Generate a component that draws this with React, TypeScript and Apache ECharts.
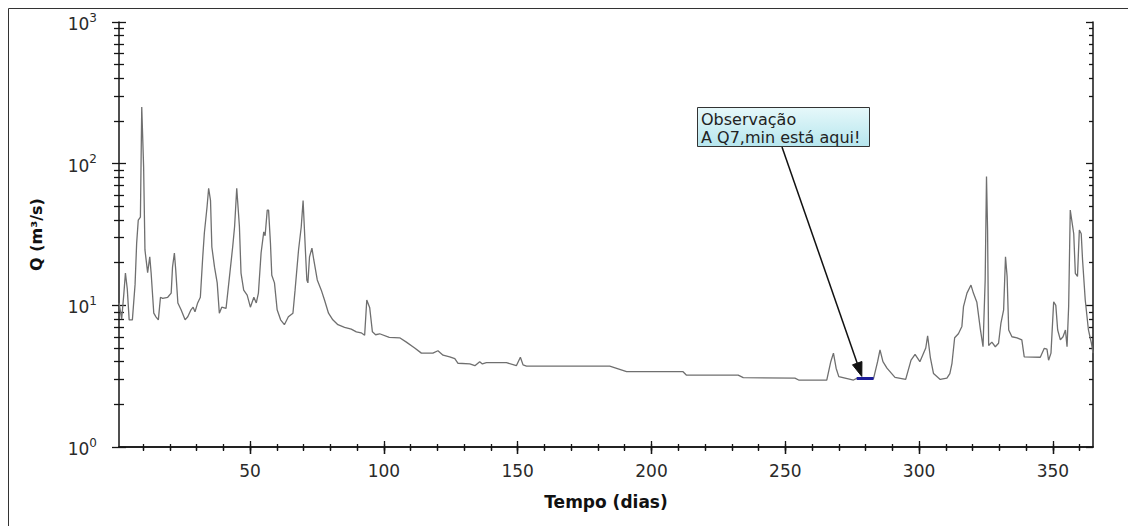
import React, { useEffect, useRef } from "react";
import * as echarts from "echarts";

// ---- data ----
const days = [
  1, 2, 2.8, 3.4, 4.1, 4.8, 6, 7, 7.6, 8.2, 9, 9.5, 10.2, 10.7, 11.7, 12.5, 13, 14, 14.8, 15.7,
  16.5, 17.3, 19.2, 20.5, 21, 21.7, 22.2, 23, 24.2, 25.7, 26.7, 27.9, 28.7, 29.4, 30.4, 31.4,
  32.3, 32.9, 33.9, 34.5, 35.2, 35.7, 36.7, 37.7, 38.5, 39.4, 41, 42.3, 43.5, 44.2, 45, 46,
  46.6, 47.6, 48.9, 50.1, 51.4, 52.3, 53.1, 54.1, 55.1, 55.6, 56.4, 56.9, 57.6, 58.1, 59.1,
  60.1, 61.4, 62.8, 64.3, 66, 66.8, 68.1, 69.1, 69.8, 70.6, 71.2, 71.6, 72.2, 73.1, 73.8,
  75.1, 76.6, 77.8, 79.3, 80.9, 82.8, 85.3, 87.8, 89.7, 91.5, 92.8, 93.6, 94.7, 95.7, 96.9,
  98.4, 102, 105.9, 108.4, 111.5, 114, 118.3, 120.2, 122.1, 124.6, 126.5, 127.7, 132.1, 134,
  135.8, 136.8, 138.3, 145.8, 149.5, 151, 152, 153.3, 184.4, 190.7, 211.8, 213, 232.4, 234.3,
  253.6, 255, 265.5, 267, 268, 269, 270, 275.5, 276.7, 283, 284.5, 285.4, 286.5, 288, 291,
  295, 297, 298.5, 300.3, 302.5, 303.2, 304.2, 305.4, 307.9, 310.4, 311.5, 312.3, 313.3,
  314.7, 316, 316.6, 317.9, 319.4, 320.3, 321.6, 322.9, 323.9, 324.7, 325.2, 325.6, 326,
  327.2, 328.5, 329.7, 330.6, 331.6, 332.3, 332.9, 333.5, 334.7, 336.6, 338.4, 339.3, 345.3,
  346.8, 347.8, 348.4, 349.3, 350.3, 351.1, 351.8, 352.8, 353.8, 354.7, 355.3, 355.9, 356.5,
  357.8, 358.4, 359.2, 359.9, 360.6, 361.1, 362.1, 363.3, 364.4, 365,
];
const flows = [
  10.4, 8.0, 12, 16.9, 13, 7.9, 7.9, 14, 27.5, 40, 42, 251, 95, 24.6, 17, 22, 17, 8.8, 8.3, 7.9,
  11.4, 11.2, 11.4, 12.2, 18.6, 23.4, 17.8, 10.4, 9.3, 7.9, 8.3, 9.3, 9.7, 9.0, 10.4, 11.4,
  22, 32.4, 49.4, 67, 55, 25.8, 18.6, 14.4, 8.8, 9.7, 9.5, 16, 26, 36, 67, 36,
  16.9, 12.8, 11.8, 9.7, 11.4, 10.4, 12.2, 23.4, 33, 31, 47, 47, 27.5, 16.3, 14.4,
  9.3, 7.9, 7.3, 8.3, 8.8, 12.8, 24.6, 35.7, 55, 25.8, 15.1, 14.4, 22, 25.3, 20.9,
  15.1, 12.8, 10.9, 8.8, 7.9, 7.3, 7.0, 6.8, 6.5, 6.4, 6.15, 10.9, 9.6, 6.5, 6.2,
  6.3, 5.95, 5.9, 5.5, 5.0, 4.6, 4.6, 4.78, 4.45, 4.33, 4.2, 3.9, 3.86, 3.75,
  4.0, 3.86, 3.94, 3.94, 3.75, 4.3, 3.8, 3.72, 3.72, 3.4, 3.4, 3.22, 3.22, 3.09,
  3.06, 2.97, 2.97, 4.0, 4.6, 3.6, 3.14, 2.97, 3.05, 3.05, 4.0, 4.85, 4.0, 3.6, 3.1,
  3.0, 4.1, 4.5, 4.0, 5.0, 6.1, 4.3, 3.3, 3.0, 3.06, 3.3, 3.9, 5.9,
  6.3, 7.1, 9.8, 12.2, 13.9, 12.2, 10.5, 6.8, 5.1, 15, 81, 34, 5.2,
  5.5, 5.1, 5.4, 7.5, 9.3, 22, 16, 6.7, 6.0, 5.9, 5.7, 4.33, 4.3,
  4.97, 4.9, 4.1, 4.6, 10.6, 10, 6.7, 5.7, 6.0, 6.7, 5.1, 9.8, 47,
  32, 16.8, 16, 34, 32, 20.9, 10.9, 6.7, 5.4, 4.6,
];
const q7Days = [276.7, 283];
const q7Value = 3.05;
const q7ArrowDay = 278.6;

const xTickValues = [10, 20, 30, 40, 50, 60, 70, 80, 90, 100, 110, 120, 130, 140, 150, 160, 170, 180, 190, 200, 210, 220, 230, 240, 250, 260, 270, 280, 290, 300, 310, 320, 330, 340, 350, 360];
const xLabelValues = [50, 100, 150, 200, 250, 300, 350];
const yDecadeValues = [1, 10, 100, 1000];
const yMinorValues = [2, 3, 4, 5, 6, 7, 8, 9, 20, 30, 40, 50, 60, 70, 80, 90, 200, 300, 400, 500, 600, 700, 800, 900];

const xTitle = "Tempo (dias)";
const yTitle = "Q (m³/s)";
const noteLines = ["Observação", "A Q7,min está aqui!"];

const FONT = "DejaVu Sans";
const AX = "#151515";

export default function App() {
  const ref = useRef<HTMLDivElement>(null);

  useEffect(() => {
    const chart = echarts.init(ref.current!, null, { renderer: "svg" });
    const lineStyle = { color: AX, width: 1.5 };

    const xTick = (position: string, values: number[], inside: boolean, length: number, showLine = false) => ({
      type: "value",
      position,
      min: 1,
      max: 365,
      splitLine: { show: false },
      axisLine: { show: showLine, lineStyle },
      axisTick: { show: true, customValues: values, inside, length, lineStyle: { color: AX, width: 1.3 } },
      axisLabel: { show: false },
    });

    const logDecades = yDecadeValues.map((v) => Math.log10(v));
    const logMinor = yMinorValues.map((v) => Math.log10(v));

    const yTick = (position: string, values: number[], inside: boolean, length: number, showLine = false) => ({
      type: "value",
      position,
      min: 0,
      max: 3,
      splitLine: { show: false },
      axisLine: { show: showLine, lineStyle },
      axisTick: { show: true, customValues: values, inside, length, lineStyle: { color: AX, width: 1.3 } },
      axisLabel: { show: false },
    });

    const xMain: any = xTick("bottom", xTickValues, false, 4, true);
    xMain.axisLabel = {
      show: true,
      customValues: xLabelValues,
      fontSize: 17,
      fontFamily: FONT,
      color: "#2a2a2a",
      margin: 15,
    };
    xMain.name = xTitle;
    xMain.nameLocation = "middle";
    xMain.nameGap = 46;
    xMain.nameTextStyle = { fontSize: 17, fontWeight: "bold", fontFamily: FONT, color: "#111" };

    const yMain: any = yTick("left", logDecades, false, 7, true);
    yMain.axisLabel = {
      show: true,
      customValues: logDecades,
      margin: 22,
      formatter: (v: number) => `{b|10}{s|${Math.round(v)}}`,
      rich: {
        b: { fontSize: 17, fontFamily: FONT, color: "#2a2a2a", verticalAlign: "bottom" },
        s: { fontSize: 12, fontFamily: FONT, color: "#2a2a2a", verticalAlign: "bottom", padding: [0, 0, 9, 0] },
      },
    };
    yMain.name = yTitle;
    yMain.nameLocation = "middle";
    yMain.nameGap = 75;
    yMain.nameTextStyle = { fontSize: 16, fontWeight: "bold", fontFamily: FONT, color: "#111" };

    const seriesData = days.map((d, i) => [d, flows[i]]);
    const q7Data = q7Days.map((d) => [d, q7Value]);

    chart.setOption({
      animation: false,
      backgroundColor: "#ffffff",
      grid: { left: 119, right: 35, top: 22, bottom: 79, containLabel: false },
      xAxis: [
        xMain,
        xTick("bottom", xTickValues, true, 3),
        xTick("bottom", xLabelValues, false, 7),
        xTick("bottom", xLabelValues, true, 6),
        xTick("top", xTickValues, true, 3, true),
        xTick("top", xLabelValues, true, 7),
      ],
      yAxis: [
        { type: "log", logBase: 10, min: 1, max: 1000, show: false },
        yMain,
        yTick("left", logDecades, true, 7),
        yTick("left", logMinor, false, 5),
        yTick("left", logMinor, true, 5),
        yTick("right", logDecades, true, 7, true),
        yTick("right", logMinor, true, 4),
      ],
      series: [
        {
          type: "line",
          xAxisIndex: 0,
          yAxisIndex: 0,
          data: seriesData,
          showSymbol: false,
          symbol: "none",
          lineStyle: { color: "#6f6f6f", width: 1.3 },
          z: 3,
        },
        {
          type: "line",
          xAxisIndex: 0,
          yAxisIndex: 0,
          data: q7Data,
          showSymbol: false,
          symbol: "none",
          lineStyle: { color: "#1d1d9a", width: 3 },
          z: 4,
        },
      ],
    });

    const tip = chart.convertToPixel({ xAxisIndex: 0, yAxisIndex: 0 }, [q7ArrowDay, q7Value]) as number[];
    const tipX = tip[0];
    const tipY = tip[1] - 2;
    const startX = 782;
    const startY = 147;
    const dx = tipX - startX;
    const dy = tipY - startY;
    const len = Math.sqrt(dx * dx + dy * dy);
    const ux = dx / len;
    const uy = dy / len;
    const headL = 14;
    const headW = 5;
    const bx = tipX - ux * headL;
    const by = tipY - uy * headL;

    chart.setOption({
      graphic: [
        {
          type: "rect",
          id: "frame",
          silent: true,
          shape: { x: 8.5, y: 8.5, width: 1200, height: 600 },
          style: { fill: "none", stroke: "#333", lineWidth: 1 },
        },
        {
          type: "line",
          id: "arrowLine",
          silent: true,
          shape: { x1: startX, y1: startY, x2: bx, y2: by },
          style: { stroke: "#111", lineWidth: 1.5 },
          z: 10,
        },
        {
          type: "polygon",
          id: "arrowHead",
          silent: true,
          shape: {
            points: [
              [tipX, tipY],
              [bx - uy * headW, by + ux * headW],
              [bx + uy * headW, by - ux * headW],
            ],
          },
          style: { fill: "#111", stroke: "#111" },
          z: 10,
        },
        {
          type: "rect",
          id: "noteBox",
          silent: true,
          shape: { x: 697.5, y: 107.5, width: 172, height: 39 },
          style: {
            fill: new echarts.graphic.LinearGradient(0, 0, 0, 1, [
              { offset: 0, color: "#e6f8fa" },
              { offset: 1, color: "#b6e6ee" },
            ]),
            stroke: "#333",
            lineWidth: 1,
          },
          z: 11,
        },
        {
          type: "text",
          id: "noteText",
          silent: true,
          x: 701,
          y: 110,
          style: {
            text: noteLines.join("\n"),
            fontSize: 16,
            fontFamily: FONT,
            fill: "#222",
            lineHeight: 18,
          },
          z: 12,
        },
      ],
    });

    return () => chart.dispose();
  }, []);

  return (
    <div
      ref={ref}
      style={{ position: "absolute", left: 0, top: 0, width: 1128, height: 526, background: "#fff" }}
    />
  );
}
